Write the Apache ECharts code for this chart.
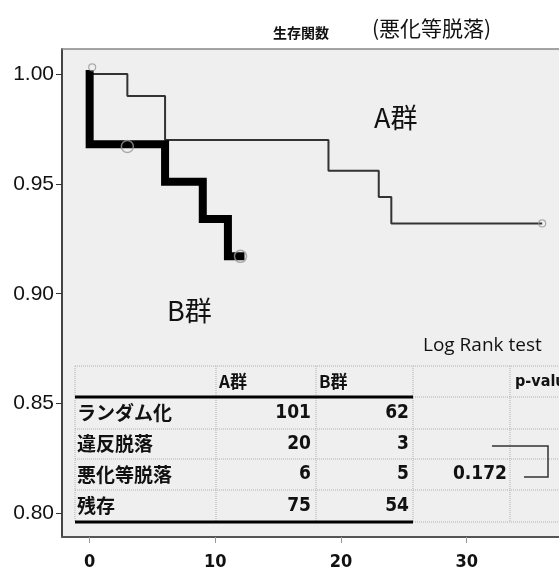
<!DOCTYPE html>
<html><head><meta charset="utf-8">
<script src="https://cdn.jsdelivr.net/npm/echarts@6/dist/echarts.min.js"></script>
<style>html,body{margin:0;padding:0;background:#fff}#c{width:559px;height:571px}</style>
</head><body><div id="c"></div>
<script>
// ---- data ----
const timeA = [0, 3, 6, 19, 23, 24, 36];
const survA = [1.000, 0.990, 0.970, 0.956, 0.944, 0.932, 0.932];
const timeB = [0, 0, 6, 9, 11, 12];
const survB = [1.000, 0.968, 0.951, 0.934, 0.917, 0.917];
const censorTimeA = [0.2, 36];
const censorSurvA = [1.003, 0.932];
const censorTimeB = [3, 12];
const censorSurvB = [0.967, 0.917];
const xTicks = [0, 10, 20, 30];
const yTicks = [0.80, 0.85, 0.90, 0.95, 1.00];
const tableRows = ['ランダム化', '違反脱落', '悪化等脱落', '残存'];
const groupHeaders = ['A群', 'B群'];
const countsA = [101, 20, 6, 75];
const countsB = [62, 3, 5, 54];
const pHeader = 'p-value';
const pValue = '0.172';
const pRowIndex = 2;
const titleMain = '生存関数';
const titleSub = '(悪化等脱落)';
const groupLabels = ['A群', 'B群'];
const testLabel = 'Log Rank test';

// ---- build ----
const zip = (xs, ys) => xs.map((x, i) => [x, ys[i]]);
const cjk = '"Noto Sans CJK JP", sans-serif';

const colX = [75, 216, 316, 413, 510, 600];
const rowY = [366, 397, 429, 459, 490, 522];
const rowMid = i => (rowY[i + 1] + rowY[i + 2]) / 2;
const g = [];
rowY.forEach(y => g.push({type: 'line', shape: {x1: colX[0], y1: y, x2: 600, y2: y},
  style: {stroke: '#b0b0b0', lineWidth: 1, lineDash: [1, 1]}}));
colX.forEach(x => g.push({type: 'line', shape: {x1: x, y1: rowY[0], x2: x, y2: rowY[rowY.length - 1]},
  style: {stroke: '#b0b0b0', lineWidth: 1, lineDash: [1, 1]}}));
[rowY[1], rowY[rowY.length - 1]].forEach(y => g.push({type: 'line', shape: {x1: colX[0], y1: y, x2: colX[3], y2: y},
  style: {stroke: '#000', lineWidth: 3}}));
const txt = (text, x, y, align, font) => ({type: 'text', x, y,
  style: {text: String(text), align, verticalAlign: 'middle', font, fill: '#111'}});
const hdrY = (rowY[0] + rowY[1]) / 2;
const numFont = 'bold 19px "DejaVu Sans Condensed", sans-serif';
g.push(txt(groupHeaders[0], colX[1] + 3, hdrY, 'left', `bold 17px ${cjk}`));
g.push(txt(groupHeaders[1], colX[2] + 3, hdrY, 'left', `bold 17px ${cjk}`));
g.push(txt(pHeader, colX[4] + 5, hdrY, 'left', 'bold 16px "DejaVu Sans Condensed", sans-serif'));
tableRows.forEach((r, i) => {
  g.push(txt(r, colX[0] + 2, rowMid(i), 'left', `bold 19px ${cjk}`));
  g.push(txt(countsA[i], colX[2] - 5, rowMid(i), 'right', numFont));
  g.push(txt(countsB[i], colX[3] - 4, rowMid(i), 'right', numFont));
});
g.push(txt(pValue, colX[4] - 3, rowMid(pRowIndex), 'right', numFont));
g.push({type: 'polyline', shape: {points: [[492, 446], [548, 446], [548, 477], [524, 477]]},
  style: {stroke: '#333', lineWidth: 1.5, fill: null}});
g.push(txt(testLabel, 423, 346, 'left', '19px "Open Sans", sans-serif'));
g.push(txt(titleMain, 301, 33, 'center', `bold 14px ${cjk}`));
g.push(txt(titleSub, 372, 28, 'left', `21px ${cjk}`));
g.push(txt(groupLabels[0], 374, 118, 'left', `27px ${cjk}`));
g.push(txt(groupLabels[1], 167, 311, 'left', `27px ${cjk}`));

const chart = echarts.init(document.getElementById('c'), null, {renderer: 'canvas'});
chart.setOption({
  animation: false,
  backgroundColor: '#fff',
  grid: {left: 62, top: 49, right: 0, bottom: 34, show: true, backgroundColor: '#efefef',
    borderWidth: 0},
  xAxis: [{type: 'value', min: -2.2, max: 37.34,
    axisLine: {show: true, onZero: false, lineStyle: {color: '#555', width: 2}},
    axisTick: {show: true, length: 6, lineStyle: {color: '#999'}, customValues: xTicks},
    splitLine: {show: false},
    axisLabel: {customValues: xTicks, margin: 16, color: '#111', fontSize: 18, fontWeight: 'bold',
      fontFamily: '"DejaVu Sans Condensed", sans-serif'}},
    {type: 'value', position: 'top', min: -2.2, max: 37.34,
      axisLine: {show: true, onZero: false, lineStyle: {color: '#888', width: 1.5}},
      axisTick: {show: false}, axisLabel: {show: false}, splitLine: {show: false}}],
  yAxis: {type: 'value', min: 0.7893, max: 1.01136,
    axisLine: {show: true, onZero: false, lineStyle: {color: '#444', width: 2}},
    axisTick: {show: true, length: 6, lineStyle: {color: '#333'}, customValues: yTicks},
    splitLine: {show: false},
    axisLabel: {customValues: yTicks, margin: 8, color: '#111', fontSize: 21,
      fontFamily: '"Liberation Sans", sans-serif', formatter: v => v.toFixed(2), padding: [6, 0, 0, 0]}},
  series: [
    {type: 'line', step: 'end', data: zip(timeA, survA), symbol: 'none',
      lineStyle: {color: '#333', width: 2}, z: 3},
    {type: 'line', step: 'end', data: zip(timeB, survB), symbol: 'none',
      lineStyle: {color: '#000', width: 8, cap: 'square', join: 'miter'}, z: 4},
    {type: 'scatter', data: zip(censorTimeA, censorSurvA), symbol: 'circle', symbolSize: 7,
      itemStyle: {color: 'rgba(0,0,0,0)', borderColor: '#999', borderWidth: 1.2}, z: 5},
    {type: 'scatter', data: zip(censorTimeB, censorSurvB), symbol: 'circle', symbolSize: 12,
      itemStyle: {color: 'rgba(0,0,0,0)', borderColor: '#999', borderWidth: 1.5}, z: 5}
  ],
  graphic: g
});
</script></body></html>
